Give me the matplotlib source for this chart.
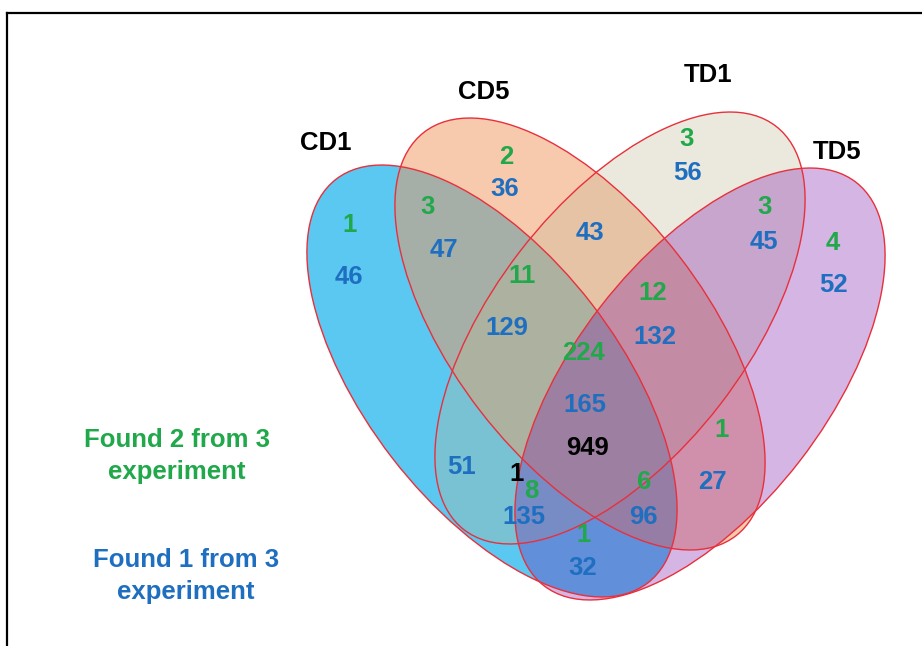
import matplotlib.pyplot as plt
from matplotlib.patches import Ellipse

# Множества
sets = ['CD1', 'CD5', 'TD1', 'TD5']

# Области диаграммы (по порядку)
regions = ['CD1', 'CD5', 'TD1', 'TD5',
           'CD1&CD5', 'CD5&TD1', 'TD1&TD5', 'CD1&TD1', 'CD5&TD5', 'CD1&TD5',
           'CD1&CD5&TD1', 'CD5&TD1&TD5', 'CD1&TD1&TD5', 'CD1&CD5&TD5', 'all']

# Найдено в 1 из 3 экспериментов (синие)
found1 = [46, 36, 56, 52, 47, 43, 45, 51, 27, 32, 129, 132, 135, 96, 165]
# Найдено в 2 из 3 экспериментов (зелёные), None - нет числа
found2 = [1, 2, 3, 4, 3, None, 3, None, 1, 1, 11, 12, 8, 6, 224]
# Найдено во всех трёх (чёрные)
found3 = {'all': 949, 'CD1&TD1&TD5': 1}

legend_texts = ['Found 2 from 3\nexperiment', 'Found 1 from 3\nexperiment']

# Геометрия эллипсов (пиксели)
ell_center = [(492, 381), (580, 334), (620, 328), (700, 384)]
ell_angle = [52.3, 52.3, 127.7, 127.7]
ell_w, ell_h = 510, 252
ell_color = ['#5ac8f0', '#f1975f', '#c0b691', '#760ca5']
ell_alpha = [1.0, 0.5, 0.3, 0.3]

set_label_pos = [(326, 143), (484, 92), (708, 75), (837, 152)]

pos_blue = [(349, 277), (505, 189), (687, 173), (833, 285), (444, 250), (590, 233),
            (764, 242), (462, 467), (712, 482), (583, 568), (507, 328), (655, 337),
            (524, 517), (643, 517), (585, 405)]
pos_green = [(350, 225), (506, 157), (687, 139), (833, 243), (428, 207), None,
             (765, 207), None, (722, 430), (584, 535), (522, 276), (653, 293),
             (531, 491), (644, 482), (583, 353)]
pos_black = {'all': (587, 448), 'CD1&TD1&TD5': (517, 474)}

green = '#20a84a'
blue = '#1f6fc0'
fs = 18.5

fig = plt.figure(figsize=(9.22, 6.46), dpi=100)
ax = fig.add_axes([0, 0, 1, 1])
ax.set_xlim(0, 922)
ax.set_ylim(646, 0)
ax.axis('off')

# Рамка
ax.plot([7, 7], [646, 13], color='black', lw=1.6, solid_capstyle='projecting')
ax.plot([7, 922], [13, 13], color='black', lw=1.6, solid_capstyle='projecting')

# Заливка эллипсов
for c, ang, col, a in zip(ell_center, ell_angle, ell_color, ell_alpha):
    ax.add_patch(Ellipse(c, ell_w, ell_h, angle=ang, facecolor=col,
                         alpha=a, edgecolor='none', zorder=1))
# Контуры
for c, ang in zip(ell_center, ell_angle):
    ax.add_patch(Ellipse(c, ell_w, ell_h, angle=ang, facecolor='none',
                         edgecolor='#e8303c', lw=1.0, zorder=2))

font = dict(family='Liberation Sans', fontweight='bold', fontsize=fs,
            ha='center', va='center', zorder=3)

for name, (x, y) in zip(sets, set_label_pos):
    ax.text(x, y, name, color='black', **font)

for val, p in zip(found1, pos_blue):
    ax.text(p[0], p[1], str(val), color=blue, **font)

for val, p in zip(found2, pos_green):
    if val is not None:
        ax.text(p[0], p[1], str(val), color=green, **font)

for reg, val in found3.items():
    x, y = pos_black[reg]
    ax.text(x, y, str(val), color='black', **font)

ax.text(177, 456, legend_texts[0], color=green, linespacing=1.4, **font)
ax.text(186, 576, legend_texts[1], color=blue, linespacing=1.45, **font)

fig.savefig('out.png', dpi=100)
